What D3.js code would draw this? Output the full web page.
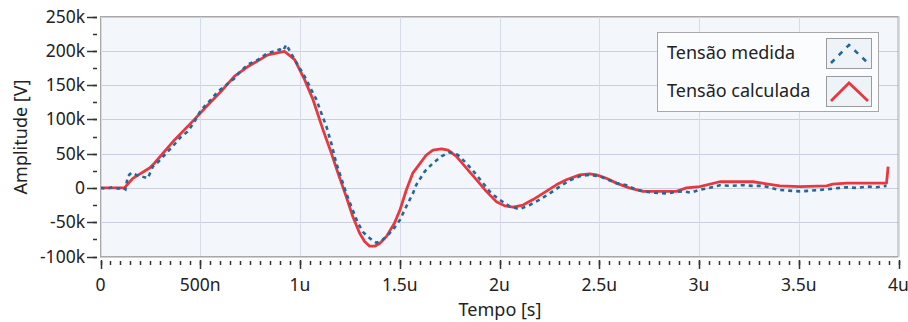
<!DOCTYPE html>
<html><head><meta charset="utf-8">
<script src="https://cdn.jsdelivr.net/npm/d3@7"></script>
<style>
html,body{margin:0;padding:0;background:#fff;}
svg text{font-family:"Noto Sans","Open Sans",sans-serif;fill:#222;}
</style></head>
<body><svg id="c" width="908" height="322"></svg>
<script>
// time in microseconds, amplitude in kV
const calcT = [0, 0.12, 0.162, 0.246, 0.27, 0.371, 0.471, 0.538, 0.605, 0.672, 0.739, 0.839, 0.923, 0.973, 1.023, 1.065, 1.115, 1.157, 1.19, 1.232, 1.265, 1.299, 1.324, 1.349, 1.374, 1.399, 1.433, 1.474, 1.5, 1.533, 1.566, 1.6, 1.633, 1.666, 1.709, 1.742, 1.784, 1.834, 1.884, 1.934, 1.984, 2.026, 2.068, 2.118, 2.168, 2.218, 2.285, 2.335, 2.402, 2.452, 2.486, 2.536, 2.586, 2.65, 2.72, 2.887, 2.937, 3.004, 3.104, 3.27, 3.338, 3.405, 3.506, 3.64, 3.67, 3.74, 3.94, 3.948];
const calcV = [0, 0, 14, 29, 36, 70, 100, 121, 141, 163, 177, 194, 199, 187, 158, 129, 85, 51, 22, -13, -42, -66, -78, -85, -85, -81, -71, -51, -33, -3, 22, 35, 48, 55, 57, 55, 46, 29, 12, -5, -20, -26, -28, -25, -17, -8, 4.5, 12, 19, 20.6, 19, 14, 7, 0, -5, -5, 0, 2, 9, 9, 6, 3, 2, 3, 5.5, 7, 7, 31];
const measT = [0, 0.03, 0.06, 0.09, 0.11, 0.125, 0.137, 0.154, 0.18, 0.204, 0.237, 0.262, 0.29, 0.321, 0.36, 0.405, 0.436, 0.47, 0.505, 0.545, 0.587, 0.63, 0.672, 0.705, 0.739, 0.79, 0.839, 0.87, 0.898, 0.915, 0.931, 0.964, 0.998, 1.032, 1.057, 1.082, 1.107, 1.132, 1.157, 1.182, 1.207, 1.232, 1.257, 1.29, 1.315, 1.34, 1.366, 1.383, 1.408, 1.433, 1.466, 1.5, 1.533, 1.566, 1.583, 1.625, 1.666, 1.709, 1.75, 1.792, 1.834, 1.876, 1.917, 1.959, 2.0, 2.051, 2.101, 2.151, 2.202, 2.252, 2.302, 2.352, 2.402, 2.452, 2.503, 2.586, 2.636, 2.68, 2.72, 2.78, 2.837, 2.88, 2.92, 2.96, 3.0, 3.05, 3.104, 3.16, 3.22, 3.27, 3.32, 3.36, 3.405, 3.45, 3.506, 3.56, 3.606, 3.67, 3.74, 3.79, 3.84, 3.89, 3.94];
const measV = [0, -1, 1, -1, 1, -2, 17, 22, 19, 17, 14, 31, 38, 48, 60, 75, 82, 96, 114, 126, 140, 150, 160, 171, 180, 187, 197, 199, 202, 200, 209, 192, 175, 158, 143, 129, 109, 90, 65, 36, 14, -8, -27, -51, -64, -71, -77, -80, -77, -71, -61, -47, -27, -8, 4.5, 24, 36, 46, 52, 48, 36, 22, 7, -8, -17, -27, -31, -25, -17, -8, 2, 11, 17, 19, 17, 7, 4, -2, -5, -7, -8, -6, -5, -7, -3, 0, 4, 3, 4, 3, 3, 0, -3, -4, -5, -4, -3, -1, 1, 0, 2, 1, 3];
const xTicks = [0, 0.5, 1, 1.5, 2, 2.5, 3, 3.5, 4];
const xTickLabels = ["0", "500n", "1u", "1.5u", "2u", "2.5u", "3u", "3.5u", "4u"];
const yTicks = [-100, -50, 0, 50, 100, 150, 200, 250];
const yTickLabels = ["-100k", "-50k", "0", "50k", "100k", "150k", "200k", "250k"];
const seriesNames = ["Tensão medida", "Tensão calculada"];

const svg = d3.select("#c");
const L = 100, R = 898.5, T = 16, B = 257;
const x = d3.scaleLinear().domain([0, 4]).range([L + 0.5, R]);
const y = d3.scaleLinear().domain([-100, 250]).range([256.5, 16.5]);

svg.append("rect").attr("x", L).attr("y", T).attr("width", R - L).attr("height", B - T)
  .attr("fill", "#f3f7fb");
// grid
svg.append("g").selectAll("line").data(yTicks).join("line")
  .attr("x1", L).attr("x2", R).attr("y1", d => Math.round(y(d)) + 0.5).attr("y2", d => Math.round(y(d)) + 0.5)
  .attr("stroke", "#c9cfdf").attr("stroke-width", 1.2);
svg.append("g").selectAll("line").data(xTicks).join("line")
  .attr("y1", T).attr("y2", B).attr("x1", d => Math.round(x(d)) + 0.5).attr("x2", d => Math.round(x(d)) + 0.5)
  .attr("stroke", "#d6dbe7").attr("stroke-width", 1);

svg.append("clipPath").attr("id", "pc").append("rect")
  .attr("x", L).attr("y", T).attr("width", R - L).attr("height", B - T);

const line = d3.line().x(d => x(d[0])).y(d => y(d[1]));
const meas = measT.map((t, i) => [t, measV[i]]);
const calc = calcT.map((t, i) => [t, calcV[i]]);
const g = svg.append("g").attr("clip-path", "url(#pc)");
g.append("path").datum(calc).attr("d", line).attr("fill", "none")
  .attr("stroke", "#e8383f").attr("stroke-width", 2.8).attr("stroke-linejoin", "round");
g.append("path").datum(meas).attr("d", line).attr("fill", "none")
  .attr("stroke", "#25679a").attr("stroke-width", 2.6).attr("stroke-dasharray", "4,4");

svg.append("rect").attr("x", L + 0.5).attr("y", T + 0.5).attr("width", R - L - 1).attr("height", B - T - 1)
  .attr("fill", "none").attr("stroke", "#a8a8a8");

// x axis
const xAxis = svg.append("g");
const xMinor = d3.range(0, 4.0001, 0.05);
xAxis.selectAll("line.mn").data(xMinor).join("line")
  .attr("x1", d => Math.round(x(d)) + 0.5).attr("x2", d => Math.round(x(d)) + 0.5)
  .attr("y1", 261).attr("y2", 265).attr("stroke", "#333").attr("stroke-width", 1.5);
xAxis.selectAll("line.mj").data(xTicks).join("line")
  .attr("x1", d => Math.round(x(d)) + 0.5).attr("x2", d => Math.round(x(d)) + 0.5)
  .attr("y1", 260).attr("y2", 269).attr("stroke", "#333").attr("stroke-width", 1.5);
xAxis.selectAll("text").data(xTicks).join("text")
  .attr("x", d => x(d)).attr("y", 291).attr("text-anchor", "middle")
  .attr("font-size", 17.5).text((d, i) => xTickLabels[i]);
svg.append("text").attr("x", 500).attr("y", 316).attr("text-anchor", "middle")
  .attr("font-size", 18).text("Tempo [s]");

// y axis
const yAxis = svg.append("g");
const yMinor = d3.range(-100, 250.001, 25);
yAxis.selectAll("line.mn").data(yMinor).join("line")
  .attr("y1", d => Math.round(y(d)) + 0.5).attr("y2", d => Math.round(y(d)) + 0.5)
  .attr("x1", 93).attr("x2", 97).attr("stroke", "#333").attr("stroke-width", 1.5);
yAxis.selectAll("line.mj").data(yTicks).join("line")
  .attr("y1", d => Math.round(y(d)) + 0.5).attr("y2", d => Math.round(y(d)) + 0.5)
  .attr("x1", 87).attr("x2", 97).attr("stroke", "#333").attr("stroke-width", 1.5);
yAxis.selectAll("text").data(yTicks).join("text")
  .attr("x", 85).attr("y", d => y(d) + 6).attr("text-anchor", "end")
  .attr("font-size", 17.5).text((d, i) => yTickLabels[i]);
svg.append("text").attr("transform", "translate(27,137) rotate(-90)").attr("text-anchor", "middle")
  .attr("font-size", 18).text("Amplitude [V]");

// legend
const lg = svg.append("g");
lg.append("rect").attr("x", 657.5).attr("y", 32.5).attr("width", 221).attr("height", 79)
  .attr("fill", "#fbfcfe").attr("stroke", "#a8a8a8");
[0, 1].forEach(i => {
  const yy = 38 + i * 38;
  lg.append("text").attr("x", 667).attr("y", yy + 21).attr("font-size", 18).text(seriesNames[i]);
  lg.append("rect").attr("x", 826.5).attr("y", yy + 0.5).attr("width", 45).attr("height", 30)
    .attr("fill", "#eef3f8").attr("stroke", "#9a9a9a");
  const pts = [[831, yy + 25], [849, yy + 7], [868, yy + 25]];
  const p = lg.append("path").attr("d", d3.line()(pts)).attr("fill", "none");
  if (i === 0) p.attr("stroke", "#25679a").attr("stroke-width", 2.6).attr("stroke-dasharray", "5,6");
  else p.attr("stroke", "#e8383f").attr("stroke-width", 2.8);
});
</script></body></html>
